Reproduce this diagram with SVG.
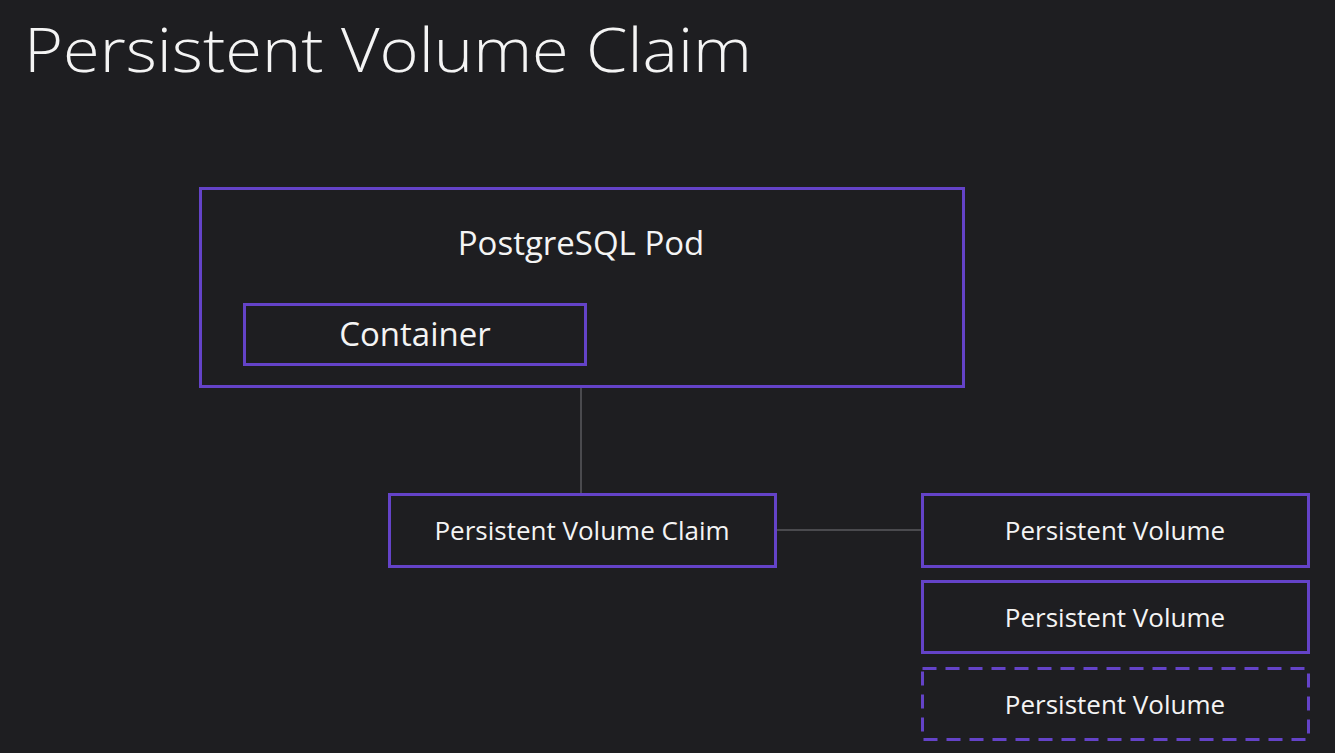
<svg xmlns="http://www.w3.org/2000/svg" width="1335" height="753" viewBox="0 0 1335 753">
<style>
.bg{fill:#1e1e21}
.box{fill:none;stroke:#6443c8;stroke-width:3}
.dash{stroke-dasharray:14 9}
.lbl{fill:#f4f4f4;font-family:"Open Sans","Noto Sans",sans-serif;text-anchor:middle}
.conn{stroke:#5a5a5e;stroke-width:1.5;fill:none}
</style>
<rect class="bg" x="0" y="0" width="1335" height="753"/>
<text x="24" y="72" fill="#f4f4f4" font-family="'Open Sans','Noto Sans',sans-serif" font-weight="300" font-size="60" textLength="728" lengthAdjust="spacingAndGlyphs">Persistent Volume Claim</text>
<g id="connectors">
<line class="conn" x1="581" y1="387" x2="581" y2="494"/>
<line class="conn" x1="775" y1="530" x2="922" y2="530"/>
</g>
<g id="pod">
<rect class="box" x="200.5" y="188.5" width="763" height="198"/>
<text class="lbl" x="581" y="255" font-size="33">PostgreSQL Pod</text>
</g>
<g id="container">
<rect class="box" x="244.5" y="304.5" width="341" height="60"/>
<text class="lbl" x="415" y="346" font-size="33">Container</text>
</g>
<g id="pvc">
<rect class="box" x="389.5" y="494.5" width="386" height="72"/>
<text class="lbl" x="582" y="540" font-size="26">Persistent Volume Claim</text>
</g>
<g id="pv1">
<rect class="box" x="922.5" y="494.5" width="386" height="72"/>
<text class="lbl" x="1115" y="540" font-size="26">Persistent Volume</text>
</g>
<g id="pv2">
<rect class="box" x="922.5" y="581.5" width="386" height="71"/>
<text class="lbl" x="1115" y="627" font-size="26">Persistent Volume</text>
</g>
<g id="pv3">
<rect class="box dash" x="922.5" y="668.5" width="386" height="71"/>
<text class="lbl" x="1115" y="714" font-size="26">Persistent Volume</text>
</g>
</svg>
